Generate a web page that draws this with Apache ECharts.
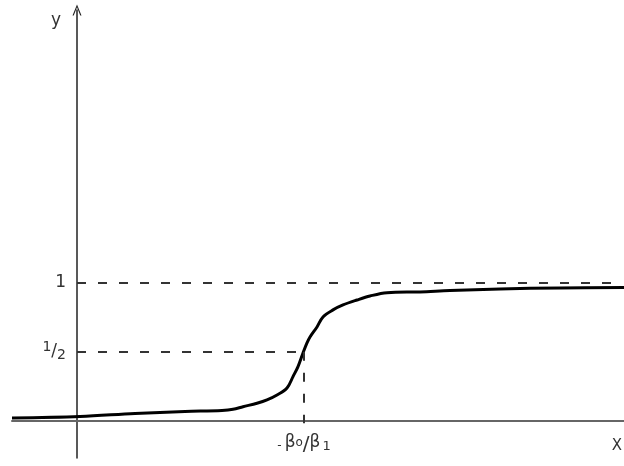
<!DOCTYPE html>
<html>
<head>
<meta charset="utf-8">
<script src="https://cdn.jsdelivr.net/npm/echarts@6/dist/echarts.min.js"></script>
<style>
  html, body { margin: 0; padding: 0; background: #fff; }
  #chart { width: 624px; height: 466px; }
</style>
</head>
<body>
<div id="chart"></div>
<script>
// logistic curve (x in units from the y axis)
const curveX = [-1.30, 0.06, 1.16, 2.16, 2.90, 3.12, 3.32, 3.60, 3.80, 4.00, 4.20, 4.32, 4.42, 4.52,
  4.60, 4.66, 4.80, 4.92, 5.12, 5.32, 5.60, 5.86, 6.20, 6.86, 7.46, 8.46, 9.66, 10.94];
const curveY = [0.018, 0.029, 0.051, 0.065, 0.073, 0.081, 0.100, 0.125, 0.149, 0.185, 0.236, 0.319, 0.392, 0.491,
  0.564, 0.607, 0.680, 0.753, 0.804, 0.840, 0.876, 0.905, 0.929, 0.935, 0.945, 0.956, 0.964, 0.967];

const center = 4.54;          // -b0/b1
const xRange = [-1.3, 10.94];
const yRange = [-0.273, 2.985];
const yTicks = [0.5, 1];
const upperEnd = 10.86;       // where the y=1 dashes stop

const grid = { left: 12, right: 0, top: 10, bottom: 8 };

const chart = echarts.init(document.getElementById('chart'));

const textColor = '#333';
const font = 'DejaVu Sans';

chart.setOption({
  animation: false,
  grid: Object.assign({ containLabel: false, outerBoundsMode: 'none' }, grid),
  xAxis: {
    type: 'value',
    min: xRange[0],
    max: xRange[1],
    name: 'X',
    nameLocation: 'end',
    nameGap: -7,
    nameTextStyle: {
      color: textColor, fontFamily: font, fontSize: 15,
      align: 'center', verticalAlign: 'top', padding: [18, 0, 0, 0]
    },
    axisLine: { onZero: false, lineStyle: { color: '#666', width: 2 } },
    axisTick: { show: false },
    splitLine: { show: false },
    axisLabel: {
      customValues: [center],
      margin: 10,
      color: textColor,
      fontFamily: font,
      formatter: () => '{m|-}{b|β}{s|o}{sl|/}{b|β}{s2|1}',
      rich: {
        m: { fontSize: 12, fontFamily: font, color: textColor, padding: [6, 3, 0, 0] },
        b: { fontSize: 17, fontFamily: font, color: textColor },
        s: { fontSize: 12, fontFamily: font, color: textColor },
        sl: { fontSize: 20, fontFamily: font, color: textColor, padding: [4, 0, 0, 0] },
        s2: { fontSize: 13, fontFamily: font, color: textColor, padding: [8, 0, 0, 2] }
      }
    }
  },
  yAxis: {
    type: 'value',
    min: yRange[0],
    max: yRange[1],
    name: 'y',
    nameLocation: 'end',
    nameGap: -2,
    nameTextStyle: {
      color: textColor, fontFamily: font, fontSize: 17,
      align: 'right', verticalAlign: 'top', padding: [0, 16, 0, 0]
    },
    axisLine: {
      onZero: false,
      symbol: ['none', 'path://M0,12 L5,0 L10,12 L8.6,12 L5,3 L1.4,12 Z'],
      symbolSize: [9, 11],
      lineStyle: { color: '#222', width: 1.5 }
    },
    axisTick: { show: false },
    splitLine: { show: false },
    axisLabel: {
      customValues: yTicks,
      margin: 11,
      color: textColor,
      fontFamily: font,
      formatter: v => v === 1 ? '{n|1}' : '{p|1}{sl|/}{q|2}',
      rich: {
        n: { fontSize: 17, fontFamily: font, color: textColor },
        p: { fontSize: 14, fontFamily: font, color: textColor, padding: [0, 0, 8, 0] },
        sl: { fontSize: 17, fontFamily: font, color: textColor },
        q: { fontSize: 14, fontFamily: font, color: textColor, padding: [8, 0, 0, 0] }
      }
    }
  },
  series: [
    {
      type: 'line',
      data: curveX.map((x, i) => [x, curveY[i]]),
      smooth: 0.35,
      showSymbol: false,
      lineStyle: { color: '#000', width: 3 },
      z: 3,
      markLine: {
        silent: true,
        symbol: 'none',
        label: { show: false },
        lineStyle: { color: '#333', width: 2, type: [9, 12] },
        data: [
          [{ coord: [0, 1] }, { coord: [upperEnd, 1] }],
          [{ coord: [0, 0.5] }, { coord: [center, 0.5] }],
          [{ coord: [center, 0.5] }, { coord: [center, -0.02] }]
        ]
      }
    }
  ]
});

// move both axes onto the origin (y axis at x=0, x axis at y=0)
const origin = chart.convertToPixel({ gridIndex: 0 }, [0, 0]);
chart.setOption({
  xAxis: { offset: -(466 - grid.bottom - origin[1]) },
  yAxis: { offset: -(origin[0] - grid.left) }
});
</script>
</body>
</html>
